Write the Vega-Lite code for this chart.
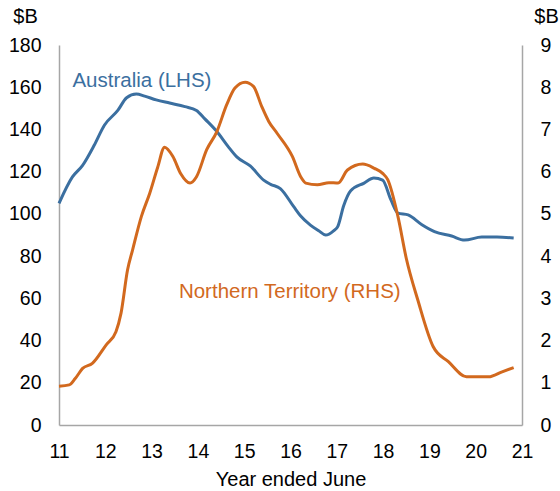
{
  "$schema": "https://vega.github.io/schema/vega-lite/v6.json",
  "width": 463,
  "height": 380,
  "autosize": "none",
  "padding": {"left": 59, "top": 45, "right": 38, "bottom": 66},
  "config": {
    "view": {"stroke": null},
    "font": "Liberation Sans",
    "axis": {
      "labelFont": "Liberation Sans",
      "labelFontSize": 19.5,
      "labelColor": "#000000",
      "titleFont": "Liberation Sans",
      "titleFontSize": 20,
      "titleFontWeight": "normal",
      "titleColor": "#000000",
      "domainColor": "#a6a6a6",
      "domainWidth": 1.5,
      "ticks": false,
      "grid": false
    }
  },
  "datasets": {
    "aus": [
      {"year": 11.00, "value": 105}, {"year": 11.29, "value": 117.5}, {"year": 11.51, "value": 123},
      {"year": 11.76, "value": 132.5}, {"year": 11.98, "value": 142}, {"year": 12.27, "value": 149},
      {"year": 12.46, "value": 155}, {"year": 12.67, "value": 156.8}, {"year": 12.85, "value": 155.8},
      {"year": 13.10, "value": 154}, {"year": 13.39, "value": 152.5}, {"year": 13.72, "value": 150.8},
      {"year": 13.97, "value": 149}, {"year": 14.15, "value": 145}, {"year": 14.41, "value": 139},
      {"year": 14.65, "value": 132}, {"year": 14.84, "value": 127}, {"year": 15.13, "value": 122.7},
      {"year": 15.42, "value": 116}, {"year": 15.57, "value": 114}, {"year": 15.78, "value": 112},
      {"year": 16.07, "value": 103.4}, {"year": 16.22, "value": 99}, {"year": 16.43, "value": 94.7},
      {"year": 16.61, "value": 92}, {"year": 16.76, "value": 90}, {"year": 16.93, "value": 92},
      {"year": 17.02, "value": 94}, {"year": 17.15, "value": 104}, {"year": 17.30, "value": 111},
      {"year": 17.59, "value": 114.6}, {"year": 17.80, "value": 117}, {"year": 17.99, "value": 116},
      {"year": 18.17, "value": 106.6}, {"year": 18.32, "value": 100.4}, {"year": 18.54, "value": 99.5},
      {"year": 18.83, "value": 95}, {"year": 19.11, "value": 91.6}, {"year": 19.48, "value": 89.5},
      {"year": 19.76, "value": 87.6}, {"year": 20.13, "value": 89}, {"year": 20.46, "value": 89},
      {"year": 20.82, "value": 88.6}
    ],
    "nt": [
      {"year": 11.00, "value": 0.92}, {"year": 11.22, "value": 0.95}, {"year": 11.35, "value": 1.1},
      {"year": 11.51, "value": 1.34}, {"year": 11.72, "value": 1.46}, {"year": 12.02, "value": 1.9},
      {"year": 12.23, "value": 2.21}, {"year": 12.34, "value": 2.65}, {"year": 12.48, "value": 3.67},
      {"year": 12.59, "value": 4.15}, {"year": 12.78, "value": 4.94}, {"year": 12.96, "value": 5.49},
      {"year": 13.13, "value": 6.1}, {"year": 13.28, "value": 6.58}, {"year": 13.46, "value": 6.36},
      {"year": 13.63, "value": 5.95}, {"year": 13.83, "value": 5.73}, {"year": 13.97, "value": 5.88},
      {"year": 14.19, "value": 6.52}, {"year": 14.41, "value": 6.95}, {"year": 14.62, "value": 7.58},
      {"year": 14.80, "value": 7.98}, {"year": 15.02, "value": 8.12}, {"year": 15.20, "value": 8.02},
      {"year": 15.38, "value": 7.54}, {"year": 15.53, "value": 7.19}, {"year": 15.71, "value": 6.91},
      {"year": 16.04, "value": 6.36}, {"year": 16.22, "value": 5.88}, {"year": 16.33, "value": 5.73},
      {"year": 16.58, "value": 5.69}, {"year": 16.83, "value": 5.74}, {"year": 17.03, "value": 5.73},
      {"year": 17.23, "value": 6.04}, {"year": 17.56, "value": 6.18}, {"year": 17.81, "value": 6.08},
      {"year": 17.99, "value": 5.96}, {"year": 18.10, "value": 5.81}, {"year": 18.32, "value": 4.94},
      {"year": 18.50, "value": 3.95}, {"year": 18.75, "value": 2.96}, {"year": 19.08, "value": 1.86},
      {"year": 19.41, "value": 1.5}, {"year": 19.80, "value": 1.14}, {"year": 20.28, "value": 1.14},
      {"year": 20.57, "value": 1.26}, {"year": 20.82, "value": 1.36}
    ]
  },
  "encoding": {
    "x": {
      "field": "year",
      "type": "quantitative",
      "scale": {"domain": [11, 21], "nice": false, "zero": false},
      "axis": {
        "title": "Year ended June",
        "values": [11, 12, 13, 14, 15, 16, 17, 18, 19, 20, 21],
        "labelFlush": false,
        "labelOverlap": false,
        "labelPadding": 17,
        "titlePadding": 9
      }
    }
  },
  "layer": [
    {
      "layer": [
        {
          "data": {"name": "aus"},
          "mark": {"type": "line", "interpolate": "monotone", "color": "#3b6fa0", "strokeWidth": 3},
          "encoding": {
            "y": {
              "field": "value",
              "type": "quantitative",
              "scale": {"domain": [0, 180], "nice": false},
              "axis": {
                "orient": "left",
                "title": "$B",
                "values": [0, 20, 40, 60, 80, 100, 120, 140, 160, 180],
                "labelFlush": false,
                "labelOverlap": false,
                "labelPadding": 18,
                "titleAngle": 0,
                "titleAlign": "center",
                "titleBaseline": "middle",
                "titleX": -34,
                "titleY": -29
              }
            }
          }
        },
        {
          "data": {"values": [{"year": 11.29, "value": 160.3, "label": "Australia (LHS)"}]},
          "mark": {"type": "text", "align": "left", "baseline": "alphabetic", "fontSize": 20.5, "color": "#3b6fa0", "font": "Liberation Sans"},
          "encoding": {
            "y": {"field": "value", "type": "quantitative"},
            "text": {"field": "label"}
          }
        }
      ]
    },
    {
      "layer": [
        {
          "data": {"name": "nt"},
          "mark": {"type": "line", "interpolate": "monotone", "color": "#d2691e", "strokeWidth": 3},
          "encoding": {
            "y": {
              "field": "value",
              "type": "quantitative",
              "scale": {"domain": [0, 9], "nice": false},
              "axis": {
                "orient": "right",
                "title": "$B",
                "values": [0, 1, 2, 3, 4, 5, 6, 7, 8, 9],
                "labelFlush": false,
                "labelOverlap": false,
                "labelPadding": 18,
                "titleAngle": 0,
                "titleAlign": "center",
                "titleBaseline": "middle",
                "titleX": 24,
                "titleY": -29
              }
            }
          }
        },
        {
          "data": {"values": [{"year": 13.59, "value": 3.0, "label": "Northern Territory (RHS)"}]},
          "mark": {"type": "text", "align": "left", "baseline": "alphabetic", "fontSize": 20.5, "color": "#d2691e", "font": "Liberation Sans"},
          "encoding": {
            "y": {"field": "value", "type": "quantitative"},
            "text": {"field": "label"}
          }
        }
      ]
    }
  ],
  "resolve": {"scale": {"y": "independent"}}
}
